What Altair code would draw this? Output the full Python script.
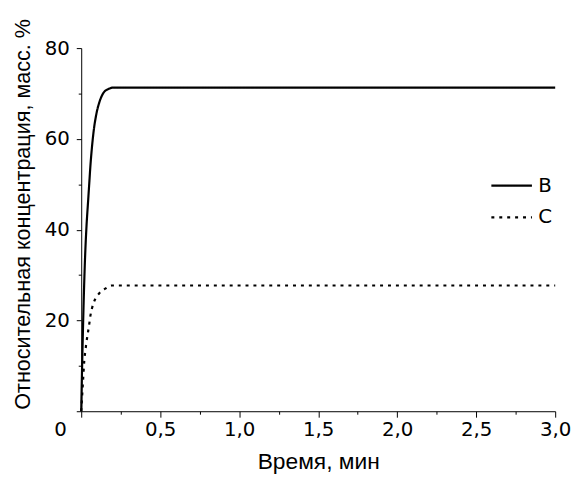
import altair as alt
import pandas as pd

# Series B (solid)
b_time = [0, 0.005, 0.01, 0.015, 0.02, 0.025, 0.033, 0.044, 0.052, 0.058, 0.067,
          0.079, 0.096, 0.117, 0.142, 0.173, 0.205, 3.0]
b_val = [0, 8.8, 16.5, 23.5, 29.5, 34.5, 40.5, 46.5, 50.8, 54.0, 57.8,
         61.8, 65.5, 68.3, 70.2, 71.0, 71.3, 71.3]

# Series C (dotted)
c_time = [0, 0.006, 0.012, 0.019, 0.027, 0.033, 0.042, 0.05, 0.058, 0.069, 0.09,
          0.117, 0.152, 0.194, 3.0]
c_val = [0, 3.5, 7.0, 11.0, 13.5, 15.2, 17.2, 19.0, 21.0, 22.8, 24.8,
         26.1, 27.0, 27.7, 27.7]

series_names = ["B", "C"]
x_ticks = [0, 0.25, 0.5, 0.75, 1.0, 1.25, 1.5, 1.75, 2.0, 2.25, 2.5, 2.75, 3.0]
y_ticks = [0, 10, 20, 30, 40, 50, 60, 70, 80]

rows = []
for t, v in zip(b_time, b_val):
    rows.append({"t": t, "v": v, "s": series_names[0]})
for t, v in zip(c_time, c_val):
    rows.append({"t": t, "v": v, "s": series_names[1]})
df = pd.DataFrame(rows)

FONT = "DejaVu Sans"

x_axis = alt.Axis(
    values=x_ticks,
    title="Время, мин",
    labelExpr="(datum.value % 0.5 !== 0 || datum.value === 0) ? '' : replace(format(datum.value, '.1f'), '.', ',')",
    tickSize={"condition": {"test": "datum.value % 0.5 !== 0", "value": 3}, "value": 6},
    grid=False,
    labelFlush=False,
    labelOverlap=False,
    labelPadding=3,
    titleFont="Liberation Sans",
    titleFontSize=23,
    titleX=239.5,
    titleY=51,
    titleBaseline="middle",
    titleAlign="center",
)

y_axis = alt.Axis(
    values=y_ticks,
    title="Относительная концентрация, масс.  %",
    labelExpr="datum.value % 20 !== 0 ? '' : datum.label",
    tickSize={"condition": {"test": "datum.value % 20 !== 0", "value": 3}, "value": 5},
    labelOffset={"condition": {"test": "datum.value === 0", "value": 19}, "value": 0},
    labelPadding={"condition": {"test": "datum.value === 0", "value": 10}, "value": 7},
    grid=False,
    labelOverlap=False,
    labelFlush=False,
    titleFont="Liberation Sans",
    titleFontSize=21.8,
    titleAngle=270,
    titleAlign="left",
    titleBaseline="middle",
    titleX=-59,
    titleY=365,
)

chart = alt.Chart(df).mark_line(strokeWidth=2.2, color="black", strokeCap="butt", interpolate="monotone").encode(
    x=alt.X("t:Q", scale=alt.Scale(domain=[0, 3.0], nice=False, zero=False), axis=x_axis),
    y=alt.Y("v:Q", scale=alt.Scale(domain=[0, 80], nice=False), axis=y_axis),
    strokeDash=alt.StrokeDash(
        "s:N",
        scale=alt.Scale(domain=series_names, range=[[1, 0], [3, 5]]),
        legend=alt.Legend(
            title=None,
            orient="none",
            legendX=413,
            legendY=117,
            padding=0,
            symbolType="stroke",
            symbolSize=1681,
            symbolStrokeWidth=2.2,
            symbolStrokeColor="black",
            labelFont=FONT,
            labelFontSize=20,
            labelColor="black",
            labelOffset=5,
            rowPadding=-15,
        ),
    ),
    detail="s:N",
).properties(
    width=479,
    height=367,
    background="white",
    autosize=alt.AutoSizeParams(type="none"),
    padding={"left": 74, "top": 38, "right": 18, "bottom": 68},
).configure_view(stroke=None).configure_axis(
    domainColor="black",
    domainWidth=1,
    tickColor="black",
    tickWidth=1,
    labelColor="black",
    labelFont=FONT,
    labelFontSize=20,
    titleColor="black",
    titleFont=FONT,
    titleFontSize=20,
    titleFontWeight="normal",
)

chart.save("out.html", embed_options={"renderer": "svg", "actions": False})
